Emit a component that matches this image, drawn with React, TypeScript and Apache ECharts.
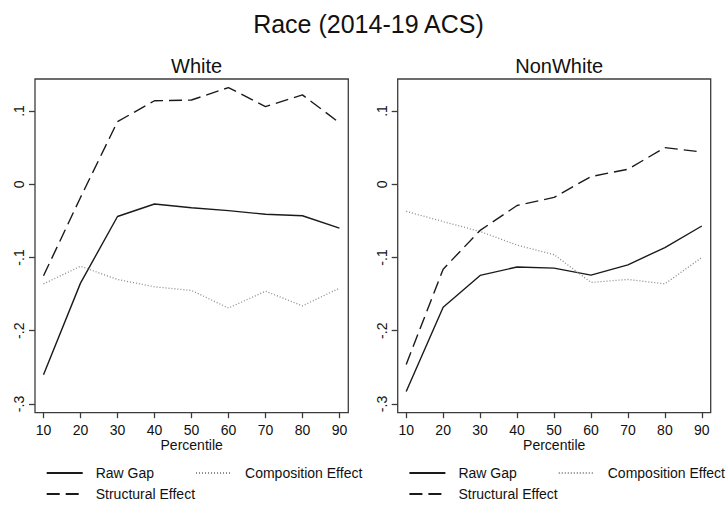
import React, { useEffect, useRef } from "react";
import * as echarts from "echarts";

const percentiles = [10, 20, 30, 40, 50, 60, 70, 80, 90];

const whiteRaw = [-0.26, -0.135, -0.044, -0.027, -0.032, -0.036, -0.041, -0.043, -0.06];
const whiteComp = [-0.136, -0.112, -0.13, -0.14, -0.145, -0.169, -0.146, -0.166, -0.142];
const whiteStruct = [-0.125, -0.018, 0.0855, 0.114, 0.115, 0.132, 0.106, 0.122, 0.084];

const nonWhiteRaw = [-0.283, -0.168, -0.1245, -0.113, -0.1145, -0.124, -0.11, -0.0864, -0.057];
const nonWhiteComp = [-0.037, -0.051, -0.0645, -0.083, -0.096, -0.134, -0.13, -0.136, -0.1];
const nonWhiteStruct = [-0.246, -0.116, -0.063, -0.029, -0.018, 0.0105, 0.0205, 0.05, 0.044];

const yTicks = [-0.3, -0.2, -0.1, 0, 0.1];
const xTicks = [10, 20, 30, 40, 50, 60, 70, 80, 90];

const mainTitle = "Race (2014-19 ACS)";
const panelTitles = ["White", "NonWhite"];
const seriesNames = ["Raw Gap", "Composition Effect", "Structural Effect"];
const xAxisTitle = "Percentile";

const FONT = "'Liberation Sans', Arial, Helvetica, sans-serif";
const TXT = "#111111";
const FRAME = "#3c3c3c";

function fmtY(v: number): string {
  if (Math.abs(v) < 1e-9) return "0";
  const s = "." + Math.round(Math.abs(v) * 10);
  return v < 0 ? "-" + s : s;
}

export default function App() {
  const ref = useRef<HTMLDivElement>(null);

  useEffect(() => {
    if (!ref.current) return;
    const chart = echarts.init(ref.current, null, { renderer: "svg" });

    const grids = [
      { left: 35, top: 79, width: 313.3, height: 333.7 },
      { left: 397.7, top: 79, width: 313, height: 333.7 },
    ];

    const xAxes = grids.map((_, i) => ({
      type: "value" as const,
      gridIndex: i,
      min: 7.7,
      max: 92.4,
      axisLine: { show: false, onZero: false },
      splitLine: { show: false },
      axisTick: { show: true, length: 5.5, customValues: xTicks, lineStyle: { color: FRAME, width: 1.3 } },
      axisLabel: {
        customValues: xTicks,
        margin: 10,
        lineHeight: 14,
        color: TXT,
        fontFamily: FONT,
        fontSize: 14,
      },
      name: xAxisTitle,
      nameLocation: "middle" as const,
      nameGap: 25,
      nameMoveOverlap: false,
      nameTextStyle: { color: TXT, fontFamily: FONT, fontSize: 14, lineHeight: 14 },
    }));

    const yAxes = grids.map((_, i) => ({
      type: "value" as const,
      gridIndex: i,
      min: -0.3119,
      max: 0.1437,
      axisLine: { show: false, onZero: false },
      splitLine: { show: false },
      axisTick: { show: true, length: 6, customValues: yTicks, lineStyle: { color: FRAME, width: 1.3 } },
      axisLabel: {
        customValues: yTicks,
        rotate: 90,
        margin: 9,
        color: TXT,
        fontFamily: FONT,
        fontSize: 14,
        formatter: (v: number) => fmtY(v),
      },
    }));

    const mk = (vals: number[]) => percentiles.map((p, i) => [p, vals[i]]);
    const lineDefs = [
      { color: "#1a1a1a", type: "solid" as any, width: 1.4 },
      { color: "#8a8a8a", type: [1, 2] as any, width: 1.3 },
      { color: "#1a1a1a", type: [13, 6] as any, width: 1.4 },
    ];
    const panelData = [
      [whiteRaw, whiteComp, whiteStruct],
      [nonWhiteRaw, nonWhiteComp, nonWhiteStruct],
    ];
    const series: any[] = [];
    panelData.forEach((arrs, gi) => {
      arrs.forEach((vals, si) => {
        series.push({
          type: "line",
          name: seriesNames[si],
          xAxisIndex: gi,
          yAxisIndex: gi,
          data: mk(vals),
          symbol: "none",
          showSymbol: false,
          clip: false,
          lineStyle: { color: lineDefs[si].color, type: lineDefs[si].type, width: lineDefs[si].width },
          itemStyle: { color: lineDefs[si].color },
          emphasis: { disabled: true },
        });
      });
    });

    const legendBase = {
      orient: "horizontal" as const,
      itemWidth: 36,
      itemHeight: 14,
      itemGap: 41,
      padding: 0,
      width: 340,
      selectedMode: false,
      itemStyle: { opacity: 0, borderWidth: 0 },
      textStyle: { color: TXT, fontFamily: FONT, fontSize: 14, padding: [0, 0, 0, 8] },
    };
    const legendLefts = [45.7, 408.4];
    const legends: any[] = [];
    legendLefts.forEach((lx) => {
      legends.push({ ...legendBase, left: lx, top: 466, data: [seriesNames[0], seriesNames[1]] });
      legends.push({ ...legendBase, left: lx, top: 487, data: [seriesNames[2]] });
    });

    chart.setOption({
      animation: false,
      backgroundColor: "#ffffff",
      title: [
        {
          text: mainTitle,
          left: 363.5,
          textAlign: "center",
          top: 6,
          textStyle: { color: TXT, fontFamily: FONT, fontSize: 25, fontWeight: "normal" },
        },
        ...panelTitles.map((t, i) => ({
          text: t,
          left: grids[i].left + grids[i].width / 2,
          textAlign: "center",
          top: 51,
          textStyle: { color: TXT, fontFamily: FONT, fontSize: 20, fontWeight: "normal" },
        })),
      ],
      grid: grids.map((g) => ({ ...g, show: true, borderColor: FRAME, borderWidth: 1.3, backgroundColor: "transparent" })),
      xAxis: xAxes,
      yAxis: yAxes,
      legend: legends,
      series,
    });

    return () => chart.dispose();
  }, []);

  return (
    <div
      ref={ref}
      style={{ position: "fixed", left: 0, top: 0, width: 727, height: 506, background: "#fff" }}
    />
  );
}
